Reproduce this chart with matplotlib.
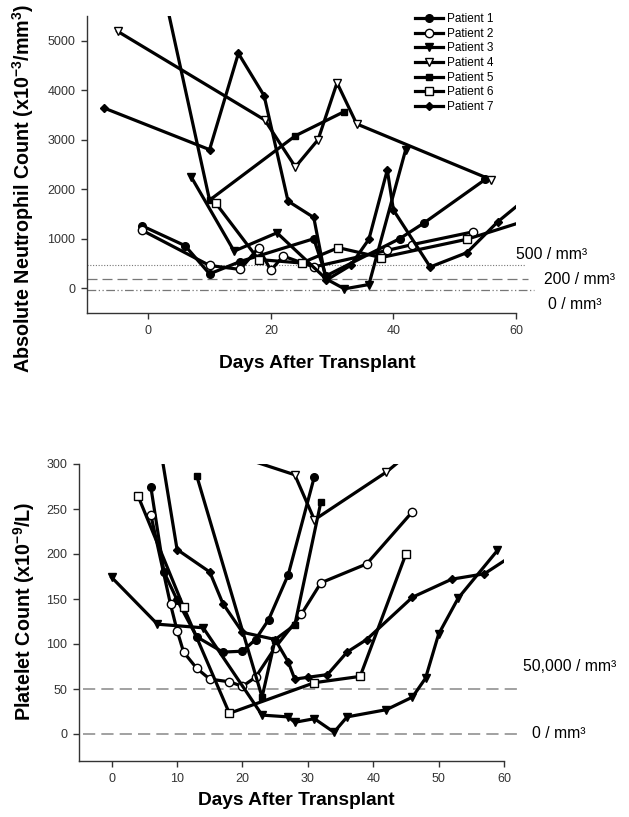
import matplotlib
matplotlib.use("Agg")
import matplotlib.pyplot as plt

plt.rcParams['font.family'] = ['Liberation Sans', 'DejaVu Sans']
plt.rcParams['mathtext.fontset'] = 'custom'
plt.rcParams['mathtext.rm'] = 'Liberation Sans'
plt.rcParams['mathtext.bf'] = 'Liberation Sans:bold'

patients = ["Patient 1", "Patient 2", "Patient 3", "Patient 4", "Patient 5", "Patient 6", "Patient 7"]

# ---- Neutrophil data (top) ----
anc_days = [
    [-1, 6, 10, 15, 27, 29, 41, 45, 55],
    [-1, 10, 15, 18, 20, 22, 27, 39, 43, 53],
    [7, 14, 21, 29, 32, 36, 42],
    [-5, 19, 24, 27.7, 30.8, 34, 56],
    [2, 10, 24, 32],
    [11, 18, 25, 31, 38, 52, 62],
    [-7.2, 10, 14.7, 18.9, 22.8, 27, 29, 33, 36, 39, 40, 46, 52, 57, 62],
]
anc_vals = [
    [1260, 860, 290, 540, 1000, 250, 1000, 1320, 2200],
    [1170, 460, 380, 820, 360, 650, 430, 765, 880, 1140],
    [2250, 750, 1120, 190, -12, 75, 2800],
    [5190, 3400, 2450, 3000, 4150, 3320, 2190],
    [6300, 1780, 3080, 3570],
    [1720, 580, 510, 820, 620, 990, 1380],
    [3640, 2800, 4745, 3890, 1760, 1430, 160, 460, 990, 2390, 1580, 430, 720, 1340, 1850],
]
anc_ref_vals = [470, 185, -40]
anc_ref_labels = ["500 / mm³", "200 / mm³", "0 / mm³"]

# ---- Platelet data (bottom) ----
plt_days = [
    [6, 8, 10, 13, 17, 20, 22, 24, 27, 31],
    [6, 9, 10, 11, 13, 15, 18, 20, 22, 25, 29, 32, 39, 46],
    [0, 7, 14, 23, 27, 28, 31, 34, 36, 42, 46, 48, 50, 53, 59],
    [20, 28, 31, 42, 46],
    [13, 23, 25, 28, 32],
    [4, 11, 18, 31, 38, 45],
    [7, 10, 15, 17, 20, 25, 27, 28, 30, 33, 36, 39, 46, 52, 57, 61],
]
plt_vals = [
    [274, 180, 149, 108, 91, 92, 105, 127, 177, 286],
    [243, 144, 115, 91, 73, 61, 58, 53, 63, 96, 133, 168, 189, 247],
    [174, 122, 118, 21, 19, 13, 17, 2, 19, 27, 41, 62, 111, 151, 204],
    [307, 288, 238, 291, 315],
    [287, 41, 105, 121, 258],
    [265, 141, 23, 57, 64, 200],
    [338, 205, 180, 145, 113, 105, 80, 61, 63, 66, 91, 105, 152, 172, 178, 197],
]
plt_ref_vals = [50, 0]
plt_ref_labels = ["50,000 / mm³", "0 / mm³"]

markers = ['o', 'o', 'v', 'v', 's', 's', 'D']
fills = ['k', 'white', 'k', 'white', 'k', 'white', 'k']
msizes = [5.5, 6, 5.5, 6, 5, 5.5, 4.5]

fig = plt.figure(figsize=(6.29, 8.17), dpi=100)

def style_axes(ax):
    for s in ['top', 'right']:
        ax.spines[s].set_visible(False)
    for s in ['left', 'bottom']:
        ax.spines[s].set_color('#333333')
        ax.spines[s].set_linewidth(1.0)
    ax.tick_params(direction='out', length=4, width=1.0, colors='#333333',
                   labelsize=9, labelcolor='#333333', pad=4.5)

# ---------------- Top ----------------
ax1 = fig.add_axes([87/629, 1-313/817, 429/629, 297/817])
style_axes(ax1)
lines = []
for i in range(7):
    ln, = ax1.plot(anc_days[i], anc_vals[i], color='k', lw=2.3, marker=markers[i],
                   ms=msizes[i], mfc=fills[i], mec='k', mew=1.0, label=patients[i])
    lines.append(ln)
ax1.set_xlim(-10, 60)
ax1.set_ylim(-500, 5500)
ax1.set_xticks([0, 20, 40, 60])
ax1.set_yticks([0, 1000, 2000, 3000, 4000, 5000])

ref_styles = [dict(ls=(0, (1, 1.5)), lw=0.8), dict(ls=(0, (8, 4)), lw=0.9),
              dict(ls=(0, (7, 2, 1, 2, 1, 2)), lw=0.9)]
ref_ends = [61.5, 62, 63]
for v, st, e in zip(anc_ref_vals, ref_styles, ref_ends):
    ax1.plot([-10, e], [v, v], color='#777777', clip_on=False, zorder=1, **st)
ax1.text(60.0, 690, anc_ref_labels[0], fontsize=11.3, ha='left', va='center')
ax1.text(64.6, 180, anc_ref_labels[1], fontsize=11.3, ha='left', va='center')
ax1.text(65.2, -330, anc_ref_labels[2], fontsize=11.3, ha='left', va='center')

ax1.set_ylabel(r'Absolute Neutrophil Count (x10$^{\mathbf{-3}}$/mm$^{\mathbf{3}}$)',
               fontsize=14.2, fontweight='bold')
ax1.yaxis.set_label_coords(-0.118, 0.42)
ax1.set_xlabel('Days After Transplant', fontsize=13.8, fontweight='bold')
ax1.xaxis.set_label_coords(0.538, -0.14)

leg = ax1.legend(handles=lines, loc='upper left', bbox_to_anchor=(0.745, 1.037),
                 frameon=False, fontsize=8.5, handlelength=2.4, handletextpad=0.3,
                 labelspacing=0.22, borderpad=0.2)

# ---------------- Bottom ----------------
ax2 = fig.add_axes([79/629, 1-761/817, 425/629, 297/817])
style_axes(ax2)
for i in range(7):
    ax2.plot(plt_days[i], plt_vals[i], color='k', lw=2.3, marker=markers[i],
             ms=msizes[i], mfc=fills[i], mec='k', mew=1.0)
ax2.set_xlim(-5, 60)
ax2.set_ylim(-30, 300)
ax2.set_xticks([0, 10, 20, 30, 40, 50, 60])
ax2.set_yticks([0, 50, 100, 150, 200, 250, 300])
for v in plt_ref_vals:
    ax2.plot([-4.4, 62.6], [v, v], color='#888888', ls=(0, (8, 4)), lw=1.1,
             clip_on=False, zorder=1)
ax2.text(62.9, 75, plt_ref_labels[0], fontsize=11.3, ha='left', va='center')
ax2.text(64.3, 0, plt_ref_labels[1], fontsize=11.3, ha='left', va='center')

ax2.set_ylabel(r'Platelet Count (x10$^{\mathbf{-9}}$/L)', fontsize=14.2, fontweight='bold')
ax2.yaxis.set_label_coords(-0.098, 0.505)
ax2.set_xlabel('Days After Transplant', fontsize=13.8, fontweight='bold')
ax2.xaxis.set_label_coords(0.511, -0.105)

fig.savefig('out.png', dpi=100)
